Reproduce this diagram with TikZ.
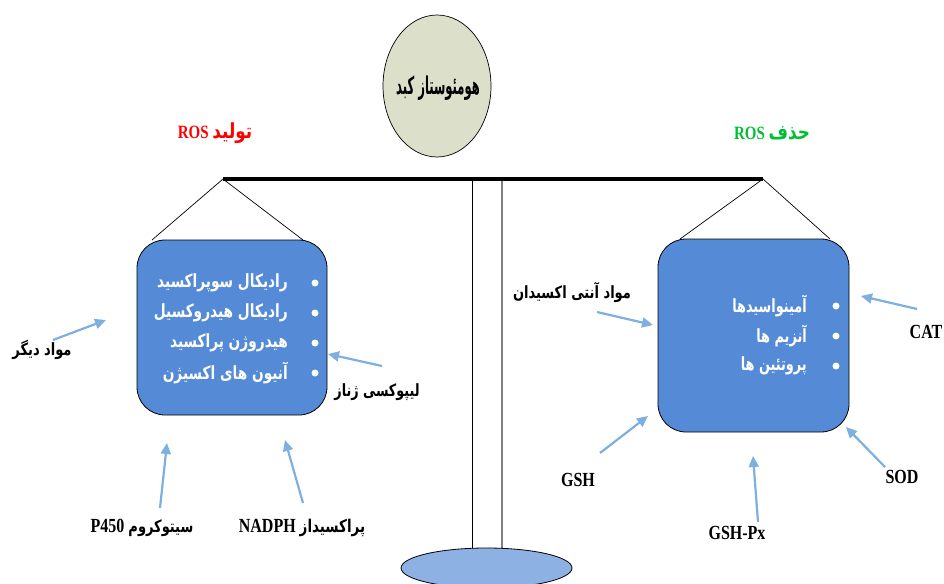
\documentclass[tikz,border=0pt]{standalone}
\usepackage{graphicx}
\usepackage{fontspec}
\setmainfont{Liberation Serif}
\newfontfamily\fa[Script=Arabic]{DejaVu Sans}
\TeXXeTstate=1
\usetikzlibrary{arrows.meta,shapes.geometric}
\definecolor{boxblue}{HTML}{558AD6}
\definecolor{baseblue}{HTML}{8EB1E3}
\definecolor{ellfill}{HTML}{DCE0CB}
\definecolor{arrowblue}{HTML}{7DAFE0}
\definecolor{rosred}{HTML}{FF0000}
\definecolor{rosgreen}{HTML}{00C032}
% Arabic text: #1 size, #2 horizontal scale, #3 text (with \beginR ... \endR)
\newcommand{\fat}[3]{\scalebox{#2}[1.3]{\fontsize{#1}{#1}\fa\bfseries #3}}
\newcommand{\lt}[1]{\scalebox{1}[1.25]{#1}}
\begin{document}
\begin{tikzpicture}[x=1pt,y=-1pt,
  lab/.style={inner sep=0pt},
  lat/.style={font=\bfseries\fontsize{16}{18}\selectfont, inner sep=0pt},
  item/.style={lab, text=white, anchor=east},
  dot/.style={circle, fill=white, inner sep=0pt, minimum size=7pt},
  panel/.style={draw=black, line width=0.8pt, fill=boxblue, rounded corners=28pt, inner sep=0pt},
  arr/.style={draw=arrowblue, line width=2.2pt, -{Triangle[length=11pt,width=10pt]}},
  hang/.style={draw=black, line width=0.7pt}]
\useasboundingbox (0,0) rectangle (944,583);

% pole
\draw[black, line width=1pt] (472,181) -- (472,552);
\draw[gray, line width=1.6pt] (502,181) -- (502,552);
% base
\node[draw=black, line width=0.8pt, fill=baseblue, ellipse, minimum width=171pt, minimum height=40pt, inner sep=0pt] (base) at (486.5,568) {};
% beam
\coordinate (beamL) at (223,179);
\coordinate (beamR) at (763,179);
\draw[line width=4pt] (beamL) -- (beamR);

% top ellipse
\node[draw=black, line width=0.7pt, fill=ellfill, ellipse, minimum width=108pt, minimum height=142pt, inner sep=0pt] (top) at (437,86) {};
\node[lab] (toptext) at (438,88) {\scalebox{0.66}[1.4]{\fontsize{17.5}{17.5}\fa\bfseries\beginR هومئوستاز کبد\endR}};

% headings
\node[lat, text=rosred, font=\bfseries\fontsize{15}{17}\selectfont] (prod) at (215,133) {\lt{ROS} \fat{16}{1.05}{\beginR تولید\endR}};
\node[lat, text=rosgreen, font=\bfseries\fontsize{15}{17}\selectfont] (remv) at (772,133) {\lt{ROS} \fat{16}{1.05}{\beginR حذف\endR}};

% left panel
\node[panel, minimum width=190pt, minimum height=175pt] (lbox) at (232,327.5) {};
\coordinate (lTL) at (152,240);
\coordinate (lTR) at (303,240);
\draw[hang] (lTL) -- (beamL) -- (lTR);
\foreach \yy/\tt [count=\i] in {283/{\beginR رادیکال سوپراکسید\endR},313/{\beginR رادیکال هیدروکسیل\endR},343/{\beginR هیدروژن پراکسید\endR},373/{\beginR آنیون های اکسیژن\endR}} {
  \node[dot] (ld\i) at (315,\yy) {};
  \node[item] (li\i) at (288,\yy) {\fat{14}{0.98}{\tt}};
}

% right panel
\node[panel, minimum width=191pt, minimum height=193pt] (rbox) at (753.5,335.5) {};
\coordinate (rTL) at (680,239);
\coordinate (rTR) at (830,239);
\draw[hang] (rTL) -- (beamR) -- (rTR);
\foreach \yy/\tt [count=\i] in {306/{\beginR آمینواسیدها\endR},336/{\beginR آنزیم ها\endR},366/{\beginR پروتئین ها\endR}} {
  \node[dot] (rd\i) at (836,\yy) {};
  \node[item] (ri\i) at (807,\yy) {\fat{14}{0.92}{\tt}};
}

% labels
\node[lab] (other) at (42,350) {\fat{13}{1}{\beginR مواد دیگر\endR}};
\node[lab] (lipo) at (377,392) {\fat{13}{0.98}{\beginR لیپوکسی ژناز\endR}};
\node[lat] (cyto) at (142,528) {\lt{P450} \fat{13}{1}{\beginR سیتوکروم\endR}};
\node[lat] (nadph) at (302,528) {\lt{NADPH} \fat{13.5}{1}{\beginR پراکسیداز\endR}};
\node[lab] (antiox) at (572,292) {\fat{13}{1}{\beginR مواد آنتی اکسیدان\endR}};
\node[lat] (cat) at (926,332) {\lt{CAT}};
\node[lat] (gsh) at (578,480) {\lt{GSH}};
\node[lat] (gshpx) at (737,533) {\lt{GSH-Px}};
\node[lat] (sod) at (902,477) {\lt{SOD}};

% arrows
\coordinate (a1s) at (53,340);  \coordinate (a1e) at (106,320);
\coordinate (a2s) at (382,366); \coordinate (a2e) at (328,354);
\coordinate (a3s) at (160,508); \coordinate (a3e) at (167,443);
\coordinate (a4s) at (303,503); \coordinate (a4e) at (285,440);
\coordinate (a5s) at (597,312); \coordinate (a5e) at (653,325);
\coordinate (a6s) at (917,309); \coordinate (a6e) at (861,296);
\coordinate (a7s) at (600,453); \coordinate (a7e) at (648,416);
\coordinate (a8s) at (758,522); \coordinate (a8e) at (753,456);
\coordinate (a9s) at (885,467); \coordinate (a9e) at (846,427);
\foreach \k in {1,...,9} { \draw[arr] (a\k s) -- (a\k e); }
\end{tikzpicture}
\end{document}
